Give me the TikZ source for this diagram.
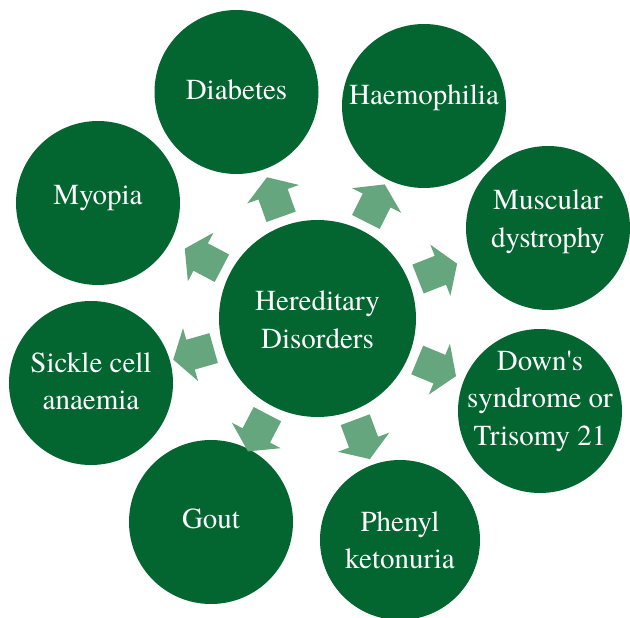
\documentclass[tikz,border=0pt]{standalone}
\usepackage{fontspec}
\setmainfont{texgyretermes}[Extension=.otf, UprightFont=*-regular]
\usetikzlibrary{calc}
\definecolor{dkgreen}{RGB}{3,101,48}
\definecolor{ltgreen}{RGB}{102,166,126}
\begin{document}
\begin{tikzpicture}[x=1pt,y=1pt,
  disc/.style={circle, fill=dkgreen, inner sep=0pt, minimum size=164pt},
  disctext/.style={text=white, inner sep=0pt, align=center,
    font=\fontsize{29}{37.5}\selectfont},
  blockarrow/.style={fill=ltgreen}]
\useasboundingbox (0,0) rectangle (630,-618);
\node[disc, minimum size=197pt] (hd) at (317.5,-318.5) {};
\node[disc] (dia) at (236.5,-92) {};
\node[disc] (hae) at (424,-106) {};
\node[disc] (mus) at (548,-228) {};
\node[disc] (dow) at (540,-411) {};
\node[disc, minimum size=160pt] (phe) at (400,-540) {};
\node[disc] (gou) at (211,-522) {};
\node[disc] (sic) at (91,-383) {};
\node[disc] (myo) at (98,-203) {};
\node[disctext] (hdt) at ($(hd)+(0,-1)$) {Hereditary\\Disorders};
\node[disctext] (diat) at ($(dia)+(0,2)$) {Diabetes};
\node[disctext] (haet) at ($(hae)+(0,8)$) {Haemophilia};
\node[disctext] (must) at ($(mus)+(0,6)$) {Muscular\\dystrophy};
\node[disctext] (dowt) at ($(dow)+(0,10)$) {Down\textquotesingle s\\syndrome or\\Trisomy 21};
\node[disctext] (phet) at ($(phe)+(0,0)$) {Phenyl\\ketonuria};
\node[disctext] (gout) at ($(gou)+(0,3)$) {Gout};
\node[disctext] (sict) at ($(sic)+(0,2)$) {Sickle cell\\anaemia};
\node[disctext] (myot) at ($(myo)+(0,5)$) {Myopia};
\foreach \t in {dia,hae,mus,dow,phe,gou,sic,myo}{
  \fill[blockarrow] let \p1=($(\t)-(hd)$), \n1={atan2(\y1,\x1)} in
    ($(hd)+(\n1:108pt)+(\n1+90:15.5pt)$) -- ($(hd)+(\n1:132pt)+(\n1+90:15.5pt)$)
    -- ($(hd)+(\n1:132pt)+(\n1+90:27.5pt)$) -- ($(hd)+(\n1:150pt)$)
    -- ($(hd)+(\n1:132pt)+(\n1-90:27.5pt)$) -- ($(hd)+(\n1:132pt)+(\n1-90:15.5pt)$)
    -- ($(hd)+(\n1:108pt)+(\n1-90:15.5pt)$) -- cycle;
}
\end{tikzpicture}
\end{document}
